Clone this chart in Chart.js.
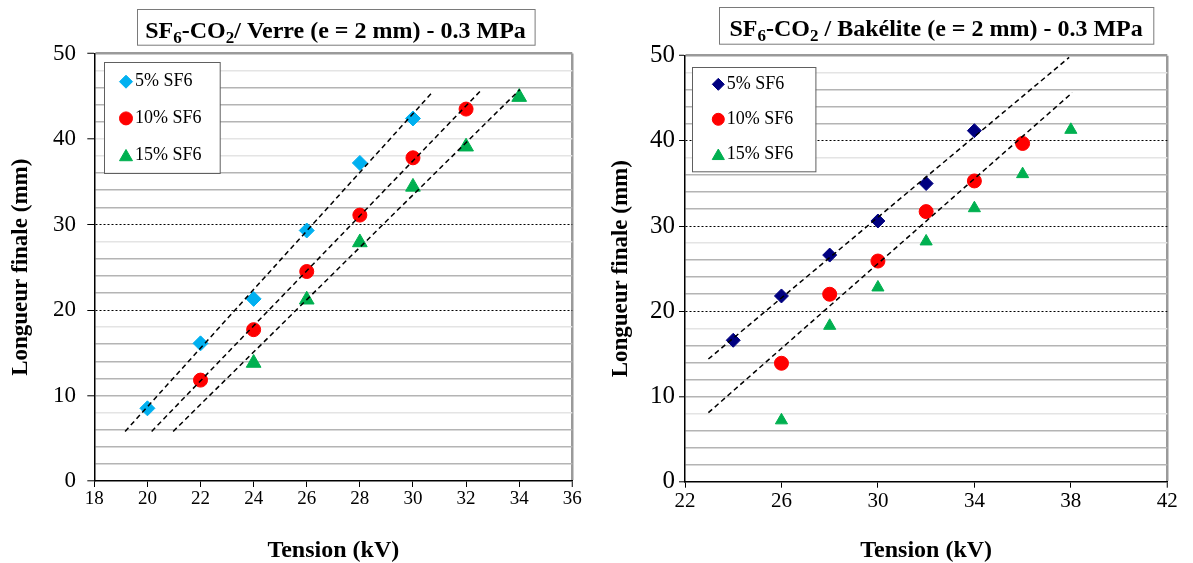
<!DOCTYPE html>
<html><head><meta charset="utf-8">
<script src="https://cdn.jsdelivr.net/npm/chart.js@4/dist/chart.umd.min.js"></script>
<style>
html,body{margin:0;padding:0;background:#fff;}
#wrap{position:relative;width:1193px;height:563px;overflow:hidden;background:#fff;}
canvas{position:absolute;top:0;}
#c1{left:0;} #c2{left:600px;}
</style></head><body>
<div id="wrap"><canvas id="c1" width="600" height="563"></canvas><canvas id="c2" width="593" height="563"></canvas></div>
<script>
// ---------- DATA ----------
const seriesNames = ['5% SF6', '10% SF6', '15% SF6'];
const titleVerre = ['SF', '6', '-CO', '2', '/ Verre (e = 2 mm) - 0.3 MPa'];
const titleBakelite = ['SF', '6', '-CO', '2', ' / Bakélite (e = 2 mm) - 0.3 MPa'];
const yAxisTitle = 'Longueur finale (mm)';
const xAxisTitle = 'Tension (kV)';
const yMajorTicks = [0, 10, 20, 30, 40, 50];

// Verre (glass)
const verreX5 = [20, 22, 24, 26, 28, 30];
const verreY5 = [8.5, 16.1, 21.3, 29.3, 37.2, 42.4];
const verreX10 = [22, 24, 26, 28, 30, 32];
const verreY10 = [11.8, 17.7, 24.5, 31.1, 37.8, 43.5];
const verreX15 = [24, 26, 28, 30, 32, 34];
const verreY15 = [13.8, 21.2, 27.9, 34.4, 39.1, 44.9];
const verreTrend5X = [19.16, 30.74];
const verreTrend5Y = [5.8, 45.5];
const verreTrend10X = [20.16, 32.55];
const verreTrend10Y = [5.8, 45.65];
const verreTrend15X = [20.97, 34.03];
const verreTrend15Y = [5.8, 45.8];

// Bakélite
const bakX5 = [24, 26, 28, 30, 32, 34];
const bakY5 = [16.6, 21.8, 26.6, 30.6, 35.0, 41.2];
const bakX10 = [26, 28, 30, 32, 34, 36];
const bakY10 = [13.9, 22.0, 25.9, 31.7, 35.3, 39.7];
const bakX15 = [26, 28, 30, 32, 34, 36, 38];
const bakY15 = [7.2, 18.3, 22.8, 28.2, 32.1, 36.1, 41.3];
const bakTrend5X = [22.97, 37.93];
const bakTrend5Y = [14.4, 49.8];
const bakTrend10X = [22.97, 38.06];
const bakTrend10Y = [8.1, 45.66];

// ---------- HELPERS ----------
const pts = (xs, ys) => xs.map((x, i) => ({x: x, y: ys[i]}));
const SERIF = '"Liberation Serif", "Times New Roman", serif';

function drawMark(ctx, style, x, y, r) {
  ctx.beginPath();
  if (style === 'rectRot') {
    ctx.moveTo(x - r, y); ctx.lineTo(x, y - r); ctx.lineTo(x + r, y); ctx.lineTo(x, y + r); ctx.closePath();
  } else if (style === 'circle') {
    ctx.arc(x, y, r, 0, Math.PI * 2);
  } else {
    const yy = y + r * 0.25;
    ctx.moveTo(x, yy - r); ctx.lineTo(x + r * 0.866, yy + r * 0.5); ctx.lineTo(x - r * 0.866, yy + r * 0.5); ctx.closePath();
  }
  ctx.fill(); ctx.stroke();
}

const boxLegend = {
  id: 'boxLegend',
  afterDraw(chart, args, o) {
    const ctx = chart.ctx, ca = chart.chartArea;
    const x0 = ca.left + o.dx, y0 = ca.top + o.dy;
    ctx.save();
    ctx.fillStyle = '#fff'; ctx.fillRect(x0, y0, o.w, o.h);
    ctx.strokeStyle = '#606060'; ctx.lineWidth = 1; ctx.strokeRect(Math.round(x0) + 0.5, Math.round(y0) + 0.5, o.w, o.h);
    const items = chart.data.datasets.filter(d => !d.isTrend);
    items.forEach((d, i) => {
      const cy = y0 + o.first + i * o.gap;
      ctx.fillStyle = d.backgroundColor; ctx.strokeStyle = d.borderColor; ctx.lineWidth = 1;
      drawMark(ctx, d.pointStyle, x0 + o.mx, cy, o.markR[i]);
      ctx.fillStyle = '#000'; ctx.font = o.fontSize + 'px ' + SERIF;
      ctx.textBaseline = 'middle'; ctx.textAlign = 'left';
      ctx.fillText(d.label, x0 + o.tx, cy);
    });
    ctx.restore();
  }
};

const boxTitle = {
  id: 'boxTitle',
  afterDraw(chart, args, o) {
    const ctx = chart.ctx;
    ctx.save();
    ctx.fillStyle = '#fff'; ctx.fillRect(o.x, o.y, o.w, o.h);
    ctx.strokeStyle = '#7a7a7a'; ctx.lineWidth = 1; ctx.strokeRect(Math.round(o.x) + 0.5, Math.round(o.y) + 0.5, o.w, o.h);
    const big = 'bold ' + o.size + 'px ' + SERIF;
    const small = 'bold ' + Math.round(o.size * 0.7) + 'px ' + SERIF;
    let total = 0;
    o.parts.forEach((p, i) => { ctx.font = (i % 2) ? small : big; total += ctx.measureText(p).width; });
    let x = o.x + (o.w - total) / 2;
    ctx.fillStyle = '#000'; ctx.textBaseline = 'alphabetic'; ctx.textAlign = 'left';
    o.parts.forEach((p, i) => {
      ctx.font = (i % 2) ? small : big;
      ctx.fillText(p, x, (i % 2) ? o.baseline + o.size * 0.22 : o.baseline);
      x += ctx.measureText(p).width;
    });
    ctx.restore();
  }
};

function scatterSet(label, data, style, color, r) {
  return {type: 'scatter', label: label, data: data, pointStyle: style, pointRadius: r, pointHoverRadius: r,
    backgroundColor: color, borderColor: color, borderWidth: 1, order: 1};
}
function trendSet(data) {
  return {type: 'line', label: 'trend', isTrend: true, data: data, borderColor: '#000', borderWidth: 1.5,
    borderDash: [5, 3.5], pointRadius: 0, fill: false, tension: 0, order: 0};
}

function yGridColor(c) {
  if (!c.tick) return '#b0b0b0';
  const v = c.tick.value;
  if (v === 0) return 'rgba(0,0,0,0)';
  if (v === 50) return '#9a9a9a';
  return null;
}

function makeChart(canvas, cfg) {
  return new Chart(canvas, {
    data: {datasets: cfg.datasets},
    options: {
      responsive: false, animation: false, devicePixelRatio: 1,
      layout: {padding: {left: 0, top: cfg.top, right: cfg.right, bottom: 0}},
      plugins: {
        legend: {display: false}, tooltip: {enabled: false},
        boxLegend: cfg.legend, boxTitle: cfg.title
      },
      scales: {
        x: {
          type: 'linear', position: 'bottom', min: cfg.xMin, max: cfg.xMax,
          afterFit: s => { s.height = cfg.xH; },
          ticks: {stepSize: cfg.xStep, autoSkip: false, maxRotation: 0, padding: 1, color: '#000',
            font: {family: SERIF, size: cfg.xTickSize}},
          grid: {
            drawTicks: true, tickLength: 6, tickWidth: 1, tickColor: '#000',
            lineWidth: c => (c.tick && c.tick.value === cfg.xMax) ? 2.5 : 1,
            color: c => (c.tick && c.tick.value === cfg.xMax) ? '#9a9a9a' : 'rgba(0,0,0,0)'
          },
          border: {display: true, color: '#000', width: 1.5},
          title: {display: true, text: xAxisTitle, color: '#000', padding: {top: 0, bottom: 0},
            font: {family: SERIF, size: 24, weight: 'bold', lineHeight: 1}}
        },
        y: {
          type: 'linear', position: 'left', min: 0, max: 50,
          afterFit: s => { s.width = cfg.yW; },
          ticks: {stepSize: 2, autoSkip: false, padding: cfg.yPad, color: '#000',
            font: {family: SERIF, size: cfg.yTickSize},
            callback: v => yMajorTicks.includes(v) ? String(v) : ''},
          grid: {
            drawTicks: true, tickLength: cfg.yTickLen, tickWidth: 1,
            tickColor: c => (c.tick && c.tick.value % 10 === 0) ? '#000' : 'rgba(0,0,0,0)',
            lineWidth: c => {
              if (!c.tick) return 1;
              const v = c.tick.value;
              if (v === 50) return 2.5;
              if (cfg.dotted.includes(v)) return 1;
              return 1.6;
            },
            color: c => {
              if (!c.tick) return '#b0b0b0';
              const v = c.tick.value;
              if (v === 0) return 'rgba(0,0,0,0)';
              if (v === 50) return '#9a9a9a';
              if (cfg.dotted.includes(v)) return '#000';
              if (cfg.light.includes(v)) return '#e4e4e4';
              return '#b4b4b4';
            }
          },
          border: {display: true, color: '#000', width: 1.5,
            dash: c => (c.tick && cfg.dotted.includes(c.tick.value)) ? [2, 2] : []},
          title: {display: true, text: yAxisTitle, color: '#000', padding: {top: 10, bottom: 0},
            font: {family: SERIF, size: 23, weight: 'bold', lineHeight: 1}}
        }
      }
    },
    plugins: [boxTitle, boxLegend]
  });
}

// ---------- LEFT: Verre ----------
makeChart(document.getElementById('c1'), {
  datasets: [
    trendSet(pts(verreTrend5X, verreTrend5Y)),
    trendSet(pts(verreTrend10X, verreTrend10Y)),
    trendSet(pts(verreTrend15X, verreTrend15Y)),
    scatterSet(seriesNames[0], pts(verreX5, verreY5), 'rectRot', '#00B0F0', 7.5),
    scatterSet(seriesNames[1], pts(verreX10, verreY10), 'circle', '#FF0000', 7),
    scatterSet(seriesNames[2], pts(verreX15, verreY15), 'triangle', '#00B050', 8.5)
  ],
  top: 53.5, right: 27.7, xH: 82, yW: 94.3, yPad: 11.3, yTickLen: 7,
  xMin: 18, xMax: 36, xStep: 2, xTickSize: 19, yTickSize: 23,
  dotted: [20, 30], light: [8, 18, 28, 38, 40, 48],
  legend: {dx: 10, dy: 8.2, w: 115.7, h: 111, first: 20, gap: 36.7, mx: 21.7, tx: 30.7, fontSize: 18, markR: [6.5, 6.5, 7.5]},
  title: {x: 136.7, y: 9.3, w: 397.6, h: 35.7, size: 24, baseline: 37.7, parts: titleVerre}
});

// ---------- RIGHT: Bakélite ----------
makeChart(document.getElementById('c2'), {
  datasets: [
    trendSet(pts(bakTrend5X, bakTrend5Y)),
    trendSet(pts(bakTrend10X, bakTrend10Y)),
    scatterSet(seriesNames[0], pts(bakX5, bakY5), 'rectRot', '#000080', 7),
    scatterSet(seriesNames[1], pts(bakX10, bakY10), 'circle', '#FF0000', 7),
    scatterSet(seriesNames[2], pts(bakX15, bakY15), 'triangle', '#00B050', 7)
  ],
  top: 55.7, right: 25.7, xH: 81.3, yW: 85, yPad: 4, yTickLen: 6,
  xMin: 22, xMax: 42, xStep: 4, xTickSize: 21, yTickSize: 25,
  dotted: [20, 30, 40], light: [8, 18, 28, 38, 48],
  legend: {dx: 7.3, dy: 11, w: 123.4, h: 104.3, first: 17.6, gap: 35, mx: 26, tx: 34.4, fontSize: 18, markR: [6, 6, 7]},
  title: {x: 119, y: 7.3, w: 434.3, h: 36.7, size: 24, baseline: 36, parts: titleBakelite}
});
</script>
</body></html>
